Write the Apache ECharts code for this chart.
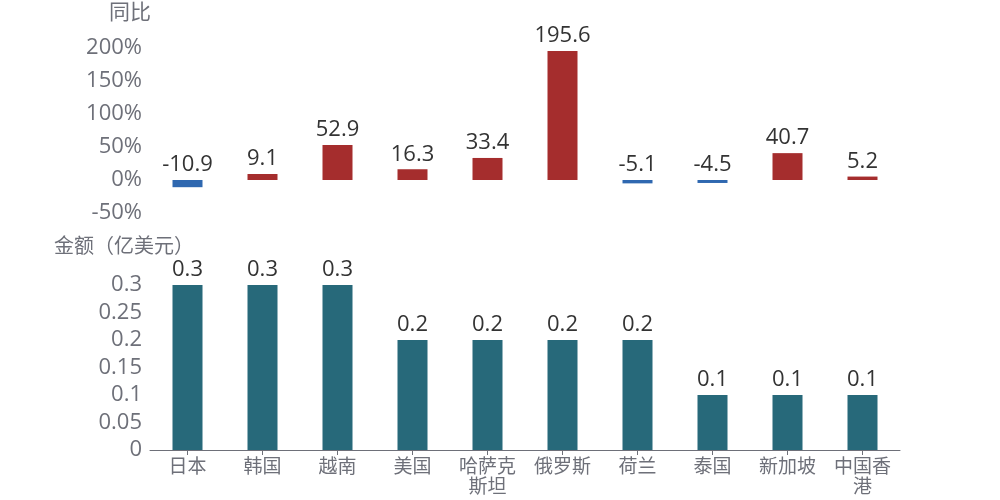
<!DOCTYPE html>
<html><head><meta charset="utf-8">
<script src="https://cdn.jsdelivr.net/npm/echarts@6/dist/echarts.min.js"></script>
<style>html,body{margin:0;padding:0;background:#fff}#c{width:1000px;height:500px}</style>
</head><body><div id="c"></div>
<script>
const categories = ['日本','韩国','越南','美国','哈萨克斯坦','俄罗斯','荷兰','泰国','新加坡','中国香港'];
const yoyValues = [-10.9, 9.1, 52.9, 16.3, 33.4, 195.6, -5.1, -4.5, 40.7, 5.2];
const amountValues = [0.3, 0.3, 0.3, 0.2, 0.2, 0.2, 0.2, 0.1, 0.1, 0.1];
const yoyTicks = {min: -50, max: 200, interval: 50};
const amountTicks = {min: 0, max: 0.3, interval: 0.05};

const FONT = '"Open Sans", "Noto Sans CJK SC", sans-serif';
const axisGray = '#6e7079';
const chart = echarts.init(document.getElementById('c'));
chart.setOption({
  animation: false,
  textStyle: {fontFamily: FONT},
  grid: [
    {left: 150, right: 100, top: 48, height: 165},
    {left: 150, right: 100, top: 285, height: 165}
  ],
  xAxis: [
    {type: 'category', gridIndex: 0, data: categories, show: false},
    {type: 'category', gridIndex: 1, data: categories,
     axisLine: {show: true, lineStyle: {color: axisGray}},
     axisTick: {show: true, alignWithLabel: true, length: 5, lineStyle: {color: axisGray}},
     axisLabel: {color: axisGray, fontSize: 19, fontFamily: FONT, margin: 8, width: 64, overflow: 'break', lineHeight: 20, interval: 0}}
  ],
  yAxis: [
    {type: 'value', gridIndex: 0, min: yoyTicks.min, max: yoyTicks.max, interval: yoyTicks.interval,
     name: '同比', nameLocation: 'end', nameGap: 24,
     nameTextStyle: {color: axisGray, fontSize: 21, fontFamily: FONT, padding: [0, 40, 0, 0]},
     axisLine: {show: false}, axisTick: {show: false}, splitLine: {show: false},
     axisLabel: {color: axisGray, fontSize: 22, fontFamily: FONT, margin: 8, formatter: '{value}%'}},
    {type: 'value', gridIndex: 1, min: amountTicks.min, max: amountTicks.max, interval: amountTicks.interval,
     name: '金额（亿美元）', nameLocation: 'end', nameGap: 28,
     nameTextStyle: {color: axisGray, fontSize: 20, fontFamily: FONT, padding: [0, 52, 0, 0]},
     axisLine: {show: false}, axisTick: {show: false}, splitLine: {show: false},
     axisLabel: {color: axisGray, fontSize: 22, fontFamily: FONT, margin: 8}}
  ],
  series: [
    {type: 'bar', xAxisIndex: 0, yAxisIndex: 0, barWidth: 30,
     data: yoyValues.map(v => ({value: v, itemStyle: {color: v < 0 ? '#2f68b0' : '#a52d2d'}})),
     label: {show: true, position: 'top', color: '#333', fontSize: 22, fontFamily: FONT, distance: 4}},
    {type: 'bar', xAxisIndex: 1, yAxisIndex: 1, barWidth: 30,
     data: amountValues, itemStyle: {color: '#27697a'},
     label: {show: true, position: 'top', color: '#333', fontSize: 22, fontFamily: FONT, distance: 4}}
  ]
});
</script></body></html>
